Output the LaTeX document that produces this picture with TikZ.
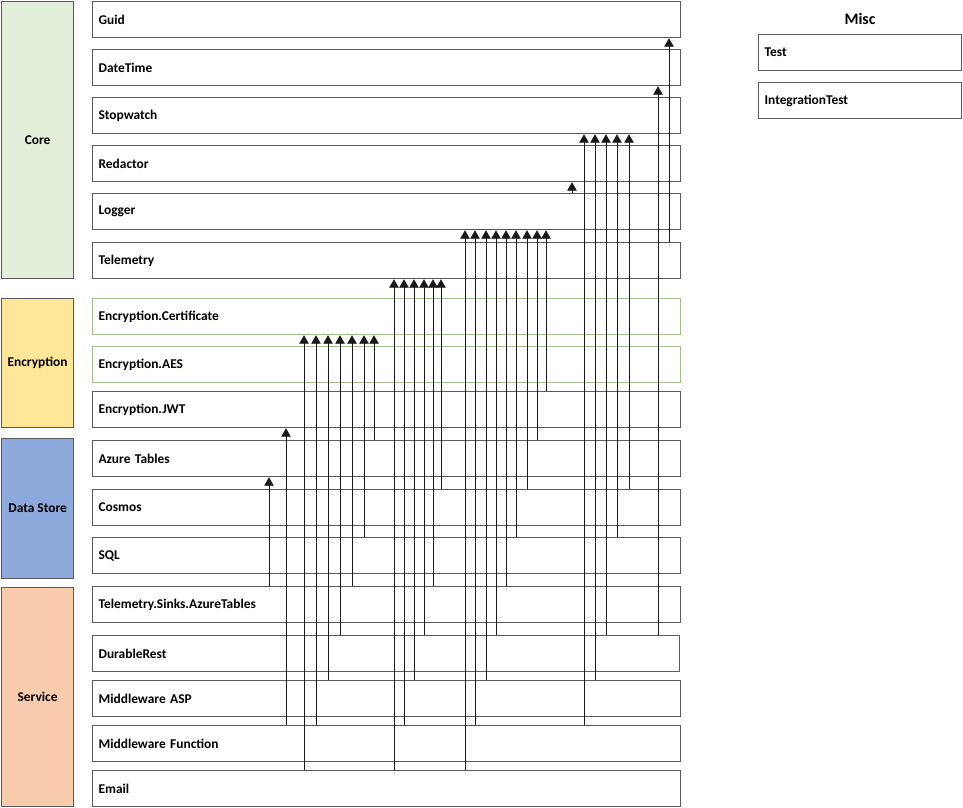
\documentclass[tikz,border=0pt]{standalone}
\usepackage{fontspec}
\setmainfont{Carlito}
\usetikzlibrary{arrows.meta}
\definecolor{boxline}{HTML}{5A5A5A}
\definecolor{greenline}{HTML}{A3BE8C}
\definecolor{corefill}{HTML}{E2EFDA}
\definecolor{encfill}{HTML}{FFE699}
\definecolor{dsfill}{HTML}{8EA9DB}
\definecolor{svcfill}{HTML}{F8CBAD}
\tikzset{
  modbox/.style={draw=boxline, line width=1.2pt, fill=white, rectangle, anchor=north west,
    text width=576pt, align=left, inner xsep=6pt, inner ysep=0pt, minimum height=36pt,
    font=\bfseries\fontsize{13.4}{15}\selectfont},
  greenbox/.style={modbox, draw=greenline},
  miscbox/.style={modbox, text width=191pt},
  groupbox/.style={draw=boxline, line width=1.2pt, rectangle, anchor=north west,
    minimum width=72pt, inner sep=0pt, font=\bfseries\fontsize{13.4}{15}\selectfont},
  dep/.style={draw=black!90, line width=0.9pt, -{Triangle[width=9.5pt,length=8.5pt]}},
}
\newcommand\deparrow[3]{\draw[dep] ([xshift=#1pt]#2.north west) -- ([xshift=#1pt]#3.south west);}
\begin{document}
\begin{tikzpicture}[x=1pt,y=-1pt]
\useasboundingbox (0,0) rectangle (963,807);
% groups
\node[groupbox, fill=corefill, minimum height=277pt] (gcore) at (1,1) {Core};
\node[groupbox, fill=encfill, minimum height=129pt] (genc) at (1,298) {Encryption};
\node[groupbox, fill=dsfill, minimum height=140pt] (gds) at (1,438) {Data Store};
\node[groupbox, fill=svcfill, minimum height=219pt] (gsvc) at (1,587) {Service};
% modules
\node[modbox] (guid) at (92,1) {Guid};
\node[modbox] (datetime) at (92,49) {DateTime};
\node[modbox] (stopwatch) at (92,97) {Stopwatch};
\node[modbox] (redactor) at (92,145) {Redactor};
\node[modbox] (logger) at (92,193) {Logger};
\node[modbox] (telemetry) at (92,242) {Telemetry};
\node[greenbox] (cert) at (92,298) {Encryption.Certificate};
\node[greenbox] (aes) at (92,346) {Encryption.AES};
\node[modbox] (jwt) at (92,391) {Encryption.JWT};
\node[modbox] (aztables) at (92,440) {Azure Tables};
\node[modbox] (cosmos) at (92,489) {Cosmos};
\node[modbox] (sql) at (92,537) {SQL};
\node[modbox] (tsat) at (92,586) {Telemetry.Sinks.AzureTables};
\node[modbox, text width=575pt] (durable) at (92,635) {DurableRest};
\node[modbox] (mwasp) at (92,680) {Middleware ASP};
\node[modbox] (mwfunc) at (92,725) {Middleware Function};
\node[modbox] (email) at (92,770) {Email};
% misc
\node[font=\bfseries\fontsize{16}{18}\selectfont] (misc) at (860,19) {Misc};
\node[miscbox] (test) at (758,34) {Test};
\node[miscbox] (itest) at (758,82) {IntegrationTest};
% dependencies (offset from left edge x=92)
\deparrow{177}{tsat}{aztables}
\deparrow{194}{mwfunc}{jwt}
\deparrow{212}{email}{cert}
\deparrow{224}{mwfunc}{cert}
\deparrow{236}{mwasp}{cert}
\deparrow{248}{durable}{cert}
\deparrow{260}{tsat}{cert}
\deparrow{272}{sql}{cert}
\deparrow{282}{aztables}{cert}
\deparrow{302}{email}{telemetry}
\deparrow{312}{mwfunc}{telemetry}
\deparrow{322}{mwasp}{telemetry}
\deparrow{332}{durable}{telemetry}
\deparrow{341}{tsat}{telemetry}
\deparrow{349}{cosmos}{telemetry}
\deparrow{373}{email}{logger}
\deparrow{383}{mwfunc}{logger}
\deparrow{394}{mwasp}{logger}
\deparrow{404}{durable}{logger}
\deparrow{414}{tsat}{logger}
\deparrow{424}{sql}{logger}
\deparrow{435}{cosmos}{logger}
\deparrow{445}{aztables}{logger}
\deparrow{454}{jwt}{logger}
\deparrow{480}{logger}{redactor}
\deparrow{492}{mwfunc}{stopwatch}
\deparrow{503}{mwasp}{stopwatch}
\deparrow{514}{durable}{stopwatch}
\deparrow{525}{sql}{stopwatch}
\deparrow{537}{cosmos}{stopwatch}
\deparrow{566}{durable}{datetime}
\deparrow{577}{telemetry}{guid}
\end{tikzpicture}
\end{document}
